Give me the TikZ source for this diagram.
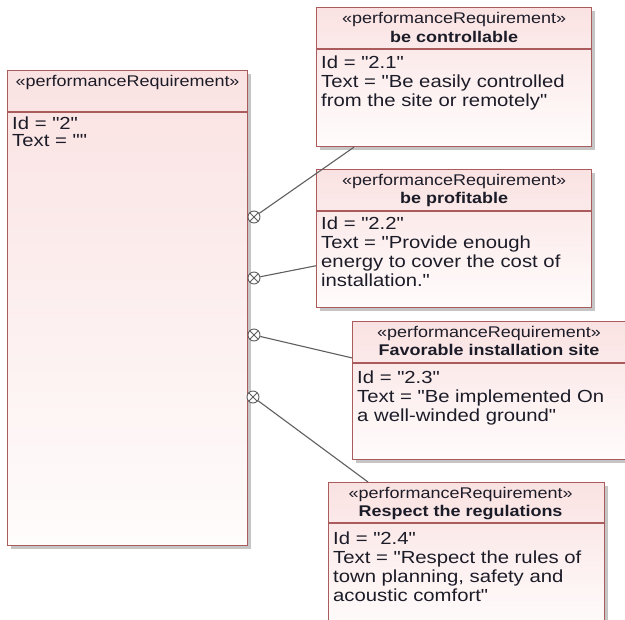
\documentclass[tikz,border=0pt]{standalone}
\usepackage{fontspec}
\setmainfont{Liberation Sans}[FakeStretch=1.16, Ligatures=TeXOff]
\usetikzlibrary{shadows,calc}
\definecolor{reqborder}{RGB}{170,92,92}
\definecolor{reqtop}{RGB}{250,226,226}
\definecolor{reqbot}{RGB}{255,252,252}
\definecolor{txt}{RGB}{28,28,40}
\definecolor{conn}{RGB}{95,95,95}
\begin{document}
\begin{tikzpicture}[x=1pt,y=-1pt,
  reqbox/.style={rectangle, draw=reqborder, line width=1.2pt, top color=reqtop, bottom color=reqbot,
    anchor=north west, inner sep=0pt,
    drop shadow={shadow xshift=3pt, shadow yshift=-3pt, fill=black!50, opacity=0.45}},
  sepline/.style={draw=reqborder, line width=1.1pt},
  stereo/.style={anchor=base, inner sep=0pt, text=txt, font=\fontsize{15.5}{19}\selectfont},
  reqname/.style={anchor=base, inner sep=0pt, text=txt, font=\fontsize{15.5}{19}\selectfont\bfseries},
  body/.style={anchor=north west, inner sep=0pt, text=txt, align=left, font=\fontsize{17.5}{19.2}\selectfont},
  connector/.style={draw=conn, line width=1.1pt},
  contain/.style={circle, draw=conn, fill=white, minimum size=12pt, inner sep=0pt, line width=0.9pt,
    path picture={\draw[conn, line width=0.8pt]
      (path picture bounding box.north west) -- (path picture bounding box.south east)
      (path picture bounding box.north east) -- (path picture bounding box.south west);}}
]
\useasboundingbox (0,0) rectangle (625,620);
\fill[white] (0,0) rectangle (625,620);
\clip (0,0) rectangle (625,620);

% main requirement
\node[reqbox, minimum width=240pt, minimum height=475pt] (r2) at (7,70) {};
\draw[sepline] ($(r2.north west)+(0,42)$) -- ($(r2.north east)+(0,42)$);
\node[stereo] (r2s) at ($(r2.north)+(0,17)$) {«performanceRequirement»};
\node[body, font=\fontsize{17.5}{17}\selectfont] (r2b) at ($(r2.north west)+(5,46.5)$) {Id = "2"\\Text = ""};

% 2.1
\node[reqbox, minimum width=275pt, minimum height=139pt] (r21) at (316,7) {};
\draw[sepline] ($(r21.north west)+(0,42)$) -- ($(r21.north east)+(0,42)$);
\node[stereo] (r21s) at ($(r21.north)+(0,17)$) {«performanceRequirement»};
\node[reqname] (r21n) at ($(r21.north)+(0,36)$) {be controllable};
\node[body] (r21b) at ($(r21.north west)+(5,48.5)$) {Id = "2.1"\\Text = "Be easily controlled\\from the site or remotely"};

% 2.2
\node[reqbox, minimum width=275pt, minimum height=138pt] (r22) at (316,169) {};
\draw[sepline] ($(r22.north west)+(0,42)$) -- ($(r22.north east)+(0,42)$);
\node[stereo] (r22s) at ($(r22.north)+(0,17)$) {«performanceRequirement»};
\node[reqname] (r22n) at ($(r22.north)+(0,35)$) {be profitable};
\node[body] (r22b) at ($(r22.north west)+(5,47.5)$) {Id = "2.2"\\Text = "Provide enough\\energy to cover the cost of\\installation."};

% 2.3
\node[reqbox, minimum width=280pt, minimum height=138pt] (r23) at (352,321) {};
\draw[sepline] ($(r23.north west)+(0,42)$) -- ($(r23.north east)+(0,42)$);
\node[stereo] (r23s) at ($(r23.north west)+(137,17)$) {«performanceRequirement»};
\node[reqname] (r23n) at ($(r23.north west)+(137,35)$) {Favorable installation site};
\node[body] (r23b) at ($(r23.north west)+(5,49.5)$) {Id = "2.3"\\Text = "Be implemented On\\a well-winded ground"};

% 2.4
\node[reqbox, minimum width=276pt, minimum height=150pt] (r24) at (328,482) {};
\draw[sepline] ($(r24.north west)+(0,41)$) -- ($(r24.north east)+(0,41)$);
\node[stereo] (r24s) at ($(r24.north)+(-6,17)$) {«performanceRequirement»};
\node[reqname] (r24n) at ($(r24.north)+(-6,35)$) {Respect the regulations};
\node[body] (r24b) at ($(r24.north west)+(5,49.5)$) {Id = "2.4"\\Text = "Respect the rules of\\town planning, safety and\\acoustic comfort"};

% containment markers
\node[contain] (k1) at (254,217) {};
\node[contain] (k2) at (254,278) {};
\node[contain] (k3) at (254,335) {};
\node[contain] (k4) at (253,397) {};

% connectors
\coordinate (e4) at (368,482);
\draw[connector] (k1) -- (r21);
\draw[connector] (k2) -- (r22);
\draw[connector] (k3) -- (r23);
\draw[connector] (k4) -- (e4);
\end{tikzpicture}
\end{document}
